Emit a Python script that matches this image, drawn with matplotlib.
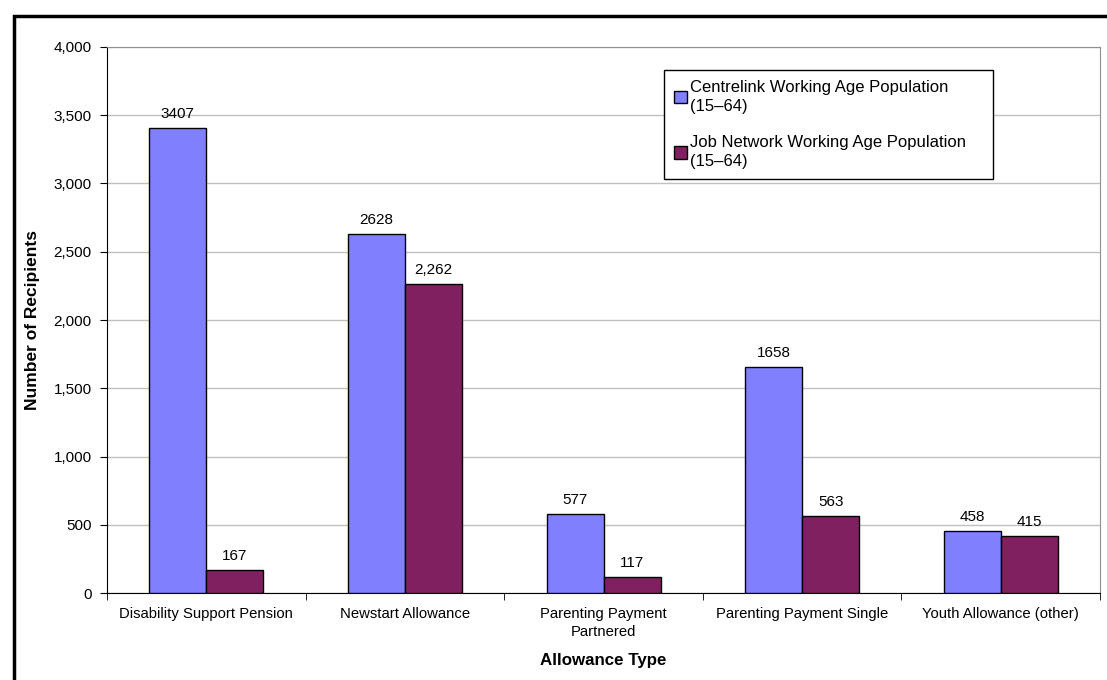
import numpy as np
import matplotlib.pyplot as plt
from matplotlib.patches import Rectangle
from matplotlib.ticker import FuncFormatter

plt.rcParams['font.family'] = ['Liberation Sans', 'DejaVu Sans']

categories = ['Disability Support Pension', 'Newstart Allowance',
              'Parenting Payment\nPartnered', 'Parenting Payment Single',
              'Youth Allowance (other)']
centrelink = [3407, 2628, 577, 1658, 458]
job_network = [167, 2262, 117, 563, 415]
centrelink_labels = ['3407', '2628', '577', '1658', '458']
job_network_labels = ['167', '2,262', '117', '563', '415']

fig = plt.figure(figsize=(11.07, 6.8), dpi=100)
ax = fig.add_axes([0.0967, 0.1279, 0.8970, 0.8030])

# thick outer frame around the whole chart
fig.patches.append(Rectangle((14 / 1107, -0.05), 1.1, 1 - 16 / 680 + 0.05,
                             transform=fig.transFigure, fill=False,
                             edgecolor='black', linewidth=2.5))

x = np.arange(len(categories))
w = 0.287
b1 = ax.bar(x - w / 2, centrelink, w, color='#8080FF', edgecolor='black',
            linewidth=1, label='Centrelink Working Age Population\n(15\u201364)', zorder=3)
b2 = ax.bar(x + w / 2, job_network, w, color='#802060', edgecolor='black',
            linewidth=1, label='Job Network Working Age Population\n(15\u201364)', zorder=3)
ax.bar_label(b1, labels=centrelink_labels, padding=5, fontsize=11)
ax.bar_label(b2, labels=job_network_labels, padding=5, fontsize=11)

ax.set_xlim(-0.5, len(categories) - 0.5)
ax.set_ylim(0, 4000)
ax.set_yticks(np.arange(0, 4001, 500))
ax.yaxis.set_major_formatter(FuncFormatter(lambda v, p: f'{int(v):,}'))
ax.grid(axis='y', color='#c0c0c0', linewidth=1, zorder=0)

ax.set_xticks(x)
ax.set_xticklabels(categories, fontsize=10.7, linespacing=1.4)
ax.set_xticks(np.arange(-0.5, len(categories)), minor=True)
ax.tick_params(axis='x', which='major', length=0, pad=10)
ax.tick_params(axis='x', which='minor', length=5, direction='out')
ax.tick_params(axis='y', length=5, direction='out', labelsize=11, pad=6)

for s in ['top', 'right']:
    ax.spines[s].set_color('#909090')
for s in ['left', 'bottom']:
    ax.spines[s].set_color('black')

ax.set_xlabel('Allowance Type', fontsize=12.2, fontweight='bold', labelpad=10)
ax.set_ylabel('Number of Recipients', fontsize=12.5, fontweight='bold', labelpad=10)

leg = ax.legend(loc='upper left', bbox_to_anchor=(0.561, 0, 0.331, 0.958),
                mode='expand', fontsize=12,
                frameon=True, fancybox=False, edgecolor='black', framealpha=1,
                handlelength=0.8, handleheight=0.8, handletextpad=0.15,
                labelspacing=1.3, borderpad=0.6, borderaxespad=0)
leg.get_frame().set_linewidth(1)
for t in leg.get_texts():
    t.set_linespacing(1.3)

fig.savefig('out.png', dpi=100)
